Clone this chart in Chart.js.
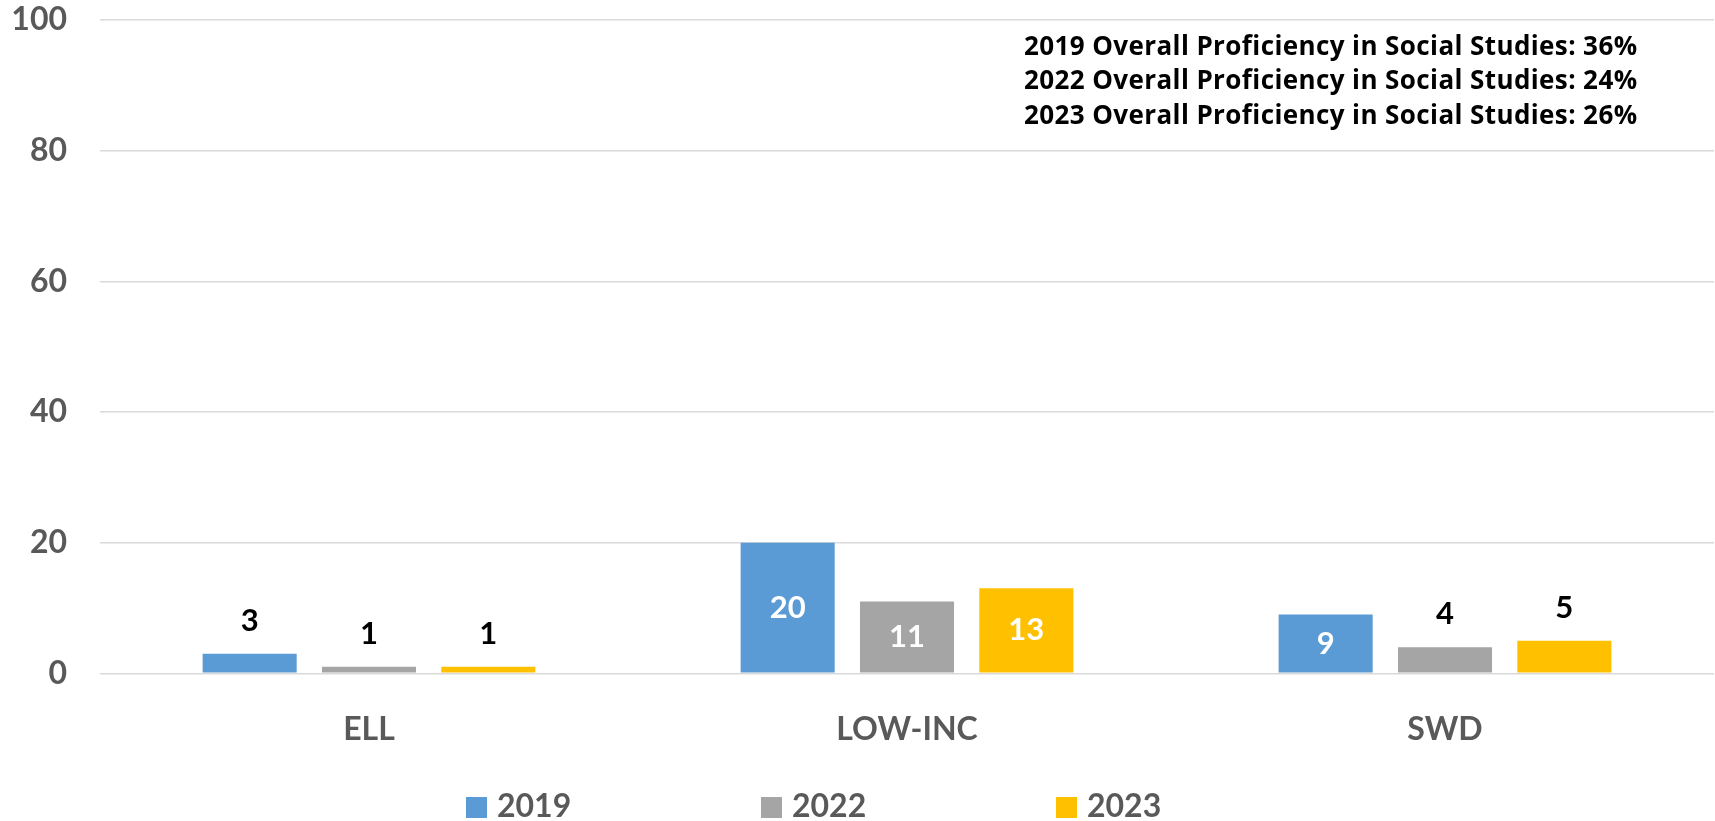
<!DOCTYPE html>
<html>
<head>
<meta charset="utf-8">
<title>Social Studies Proficiency by Subgroup</title>
<script src="https://cdn.jsdelivr.net/npm/chart.js@4.4.1/dist/chart.umd.min.js"></script>
<style>
  html, body { margin: 0; padding: 0; background: #fff; }
  #chart { display: block; }
</style>
</head>
<body>
<canvas id="chart" width="1715" height="821"></canvas>
<script>
// Chart data
const groups = ["ELL", "LOW-INC", "SWD"];
const years = ["2019", "2022", "2023"];
const values2019 = [3, 20, 9];
const values2022 = [1, 11, 4];
const values2023 = [1, 13, 5];
const yTicks = [0, 20, 40, 60, 80, 100];
const overallNotes = [
  "2019 Overall Proficiency in Social Studies: 36%",
  "2022 Overall Proficiency in Social Studies: 24%",
  "2023 Overall Proficiency in Social Studies: 26%"
];

const colors = ["#5B9BD5", "#A5A5A5", "#FFC000"];
const FONT = "Lato, 'Open Sans', sans-serif";
const axisGray = "#595959";

// value labels: inside (white) on tall bars, above (black) on short ones
const barLabels = {
  id: "barLabels",
  afterDatasetsDraw(chart) {
    const ctx = chart.ctx;
    ctx.save();
    ctx.font = "bold 31px " + FONT;
    ctx.textAlign = "center";
    ctx.textBaseline = "middle";
    chart.data.datasets.forEach((ds, i) => {
      const meta = chart.getDatasetMeta(i);
      meta.data.forEach((bar, j) => {
        const h = bar.base - bar.y;
        if (h > 45) {
          ctx.fillStyle = "#ffffff";
          ctx.fillText(String(ds.data[j]), bar.x, (bar.y + bar.base) / 2);
        } else {
          ctx.fillStyle = "#000000";
          ctx.fillText(String(ds.data[j]), bar.x, bar.y - 33);
        }
      });
    });
    ctx.restore();
  }
};

// notes in the top right corner
const notes = {
  id: "notes",
  afterDraw(chart) {
    const ctx = chart.ctx;
    ctx.save();
    ctx.font = "bold 26px 'Open Sans', sans-serif";
    ctx.letterSpacing = "0.4px";
    ctx.fillStyle = "#000000";
    ctx.textAlign = "left";
    ctx.textBaseline = "alphabetic";
    overallNotes.forEach((t, i) => {
      ctx.fillText(t, 1024, 55 + i * 34.3);
    });
    ctx.restore();
  }
};

// legend along the bottom
const bottomLegend = {
  id: "bottomLegend",
  afterDraw(chart) {
    const ctx = chart.ctx;
    ctx.save();
    ctx.font = "bold 32px " + FONT;
    ctx.textAlign = "left";
    ctx.textBaseline = "alphabetic";
    chart.data.datasets.forEach((ds, i) => {
      const x = 466 + i * 295;
      ctx.fillStyle = ds.backgroundColor;
      ctx.fillRect(x, 797, 21, 21);
      ctx.fillStyle = axisGray;
      ctx.fillText(ds.label, x + 31, 817);
    });
    ctx.restore();
  }
};

const seriesValues = [values2019, values2022, values2023];

new Chart(document.getElementById("chart"), {
  type: "bar",
  data: {
    labels: groups,
    datasets: years.map((y, i) => ({
      label: y,
      data: seriesValues[i],
      backgroundColor: colors[i],
      borderWidth: 0,
      categoryPercentage: 0.6655,
      barPercentage: 0.788
    }))
  },
  options: {
    responsive: false,
    animation: false,
    layout: {
      padding: { top: 20, right: 1, left: 0, bottom: 77.7 }
    },
    plugins: {
      legend: { display: false },
      tooltip: { enabled: false }
    },
    scales: {
      x: {
        grid: { display: false },
        border: { display: false },
        ticks: {
          color: axisGray,
          font: { family: FONT, size: 32, weight: "bold" },
          padding: 29
        },
        afterFit(scale) { scale.height = 70; }
      },
      y: {
        min: 0,
        max: 100,
        afterBuildTicks(scale) {
          scale.ticks = yTicks.map(v => ({ value: v }));
        },
        grid: {
          color: "#d9d9d9",
          lineWidth: 1.5,
          drawTicks: false
        },
        border: { display: false },
        ticks: {
          color: axisGray,
          font: { family: FONT, size: 32, weight: "bold" },
          padding: 33
        },
        afterFit(scale) {
          scale.width = 100;
          scale.paddingTop = 0;
          scale.paddingBottom = 0;
        }
      }
    }
  },
  plugins: [barLabels, notes, bottomLegend]
});
</script>
</body>
</html>
